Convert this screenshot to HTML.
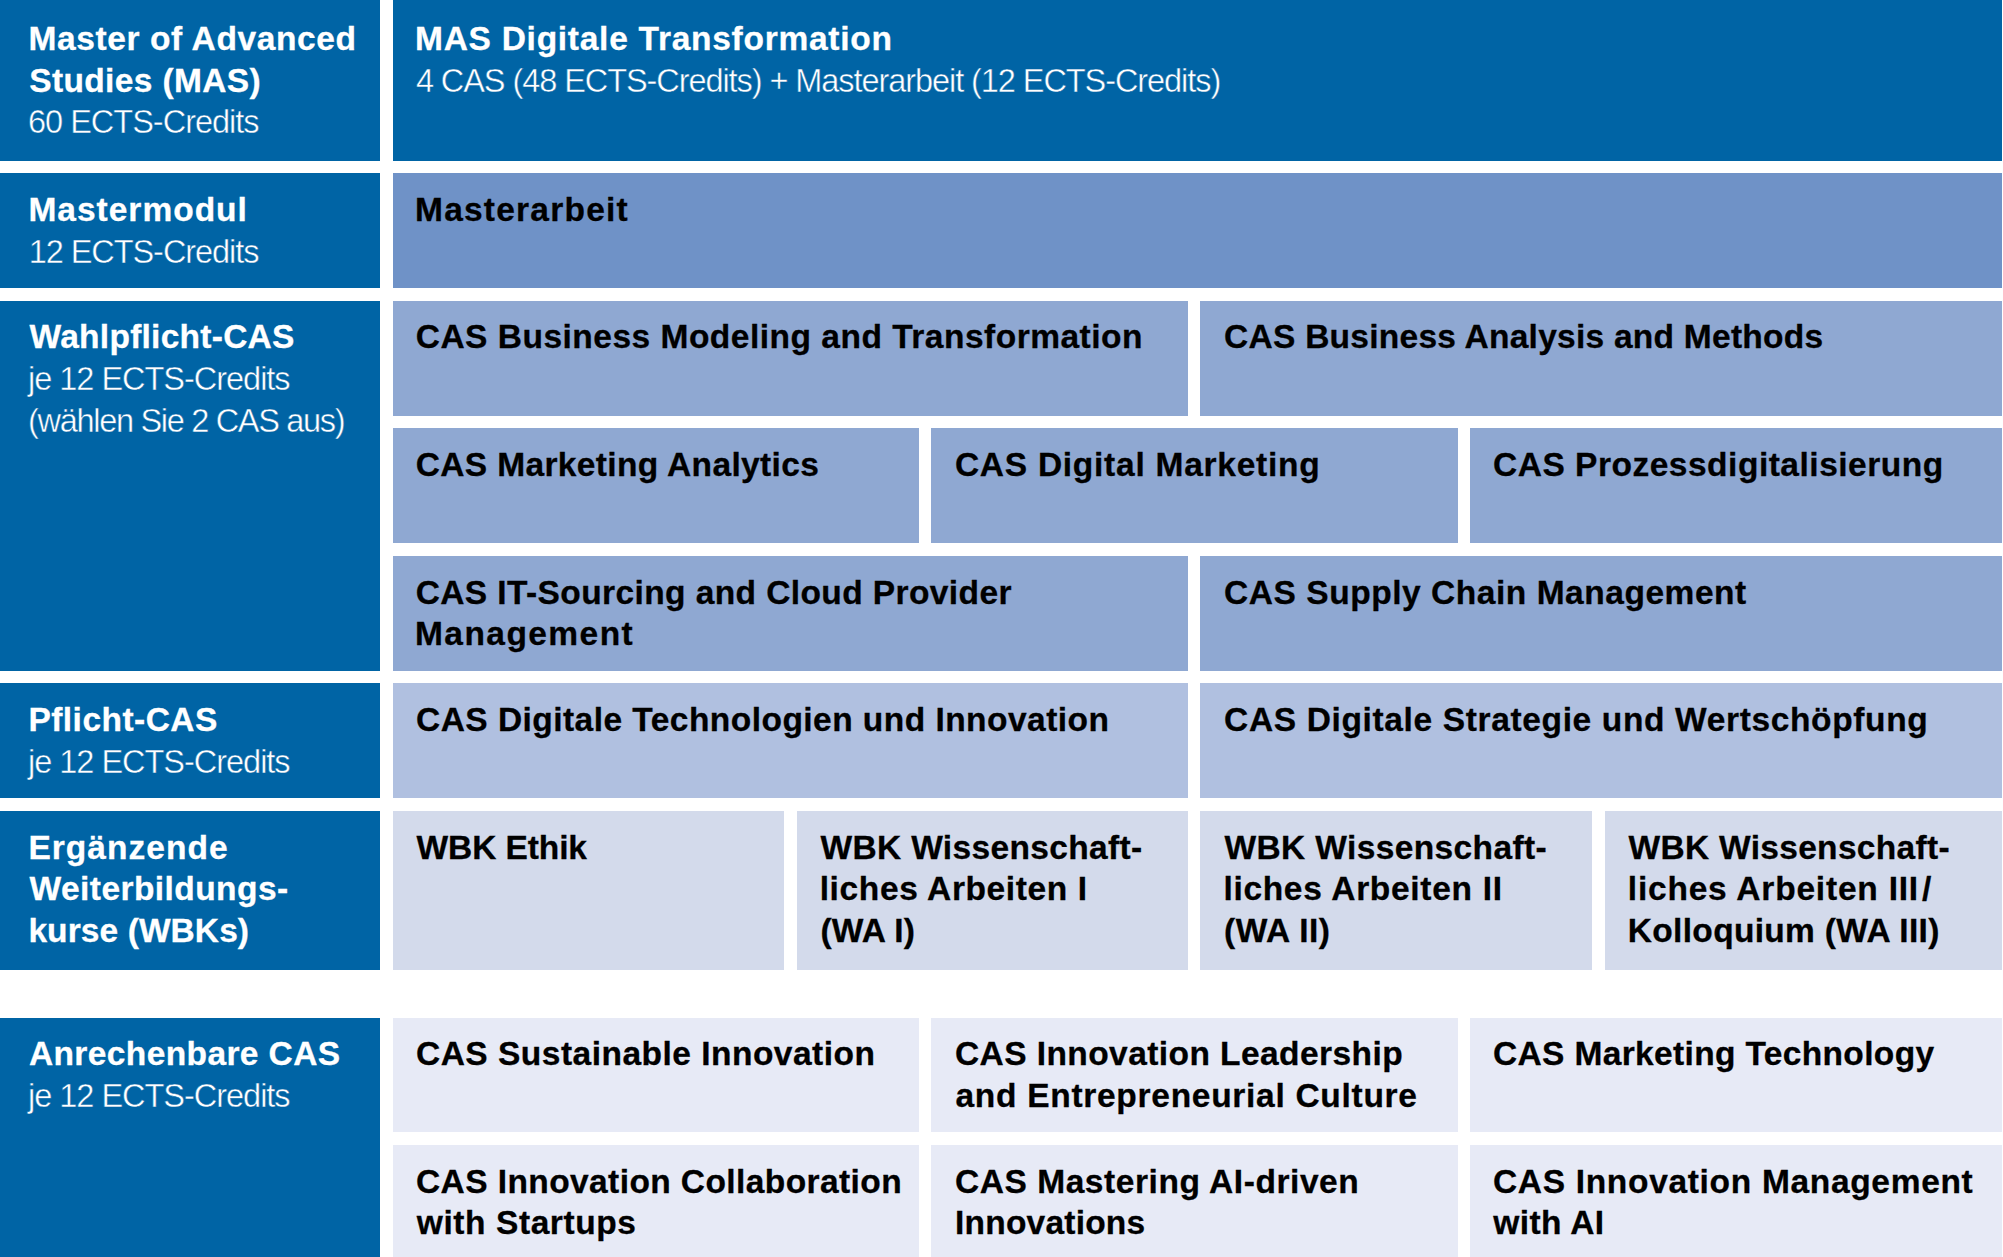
<!DOCTYPE html>
<html lang="de">
<head>
<meta charset="utf-8">
<title>MAS Digitale Transformation</title>
<style>
html,body{margin:0;padding:0;background:#fff;}
body{width:2003px;height:1257px;overflow:hidden;position:relative;font-family:"Liberation Sans",Arial,Helvetica,sans-serif;}
.x{position:absolute;overflow:hidden;color:#000;}
.x div{position:absolute;white-space:nowrap;}
.w{color:#fff;}
.b{font-weight:bold;font-size:33.5px;line-height:43px;height:43px;-webkit-text-stroke:0.3px currentColor;}
.l{font-weight:normal;font-size:32.5px;line-height:42px;height:42px;-webkit-text-stroke:0.45px #0064a5;}
</style>
</head>
<body>
<div class="x w" style="left:0px;top:0px;width:380.3px;height:160.7px;background:#0064a5"><div class="b" style="left:28.4px;top:17px;letter-spacing:0.62px">Master of Advanced</div><div class="b" style="left:29.3px;top:59px;letter-spacing:0.35px">Studies (MAS)</div><div class="l" style="left:28.0px;top:101px;letter-spacing:-1.00px">60 ECTS-Credits</div></div>
<div class="x w" style="left:393px;top:0px;width:1609.3px;height:160.7px;background:#0064a5"><div class="b" style="left:22.0px;top:17px;letter-spacing:0.73px">MAS Digitale Transformation</div><div class="l" style="left:22.9px;top:60px;letter-spacing:-1.07px">4 CAS (48 ECTS-Credits) + Masterarbeit (12 ECTS-Credits)</div></div>
<div class="x w" style="left:0px;top:173.2px;width:380.3px;height:114.9px;background:#0064a5"><div class="b" style="left:28.4px;top:14.8px;letter-spacing:1.00px">Mastermodul</div><div class="l" style="left:28.7px;top:57.8px;letter-spacing:-1.06px">12 ECTS-Credits</div></div>
<div class="x " style="left:393px;top:173.2px;width:1609.3px;height:114.9px;background:#6f92c7"><div class="b" style="left:22.0px;top:14.8px;letter-spacing:1.23px">Masterarbeit</div></div>
<div class="x w" style="left:0px;top:300.6px;width:380.3px;height:370.2px;background:#0064a5"><div class="b" style="left:29.6px;top:14.4px;letter-spacing:0.26px">Wahlpflicht-CAS</div><div class="l" style="left:28.0px;top:57.4px;letter-spacing:-1.02px">je 12 ECTS-Credits</div><div class="l" style="left:28.1px;top:99.4px;letter-spacing:-1.31px">(wählen Sie 2 CAS aus)</div></div>
<div class="x " style="left:393px;top:300.6px;width:795.4px;height:115.1px;background:#8fa8d2"><div class="b" style="left:22.7px;top:14.4px;letter-spacing:0.50px">CAS Business Modeling and Transformation</div></div>
<div class="x " style="left:1200.4px;top:300.6px;width:801.9px;height:115.1px;background:#8fa8d2"><div class="b" style="left:23.7px;top:14.4px;letter-spacing:0.26px">CAS Business Analysis and Methods</div></div>
<div class="x " style="left:393px;top:428.1px;width:526px;height:115.1px;background:#8fa8d2"><div class="b" style="left:22.7px;top:14.9px;letter-spacing:0.36px">CAS Marketing Analytics</div></div>
<div class="x " style="left:931.4px;top:428.1px;width:526.6px;height:115.1px;background:#8fa8d2"><div class="b" style="left:23.5px;top:14.9px;letter-spacing:0.74px">CAS Digital Marketing</div></div>
<div class="x " style="left:1470.1px;top:428.1px;width:532.2px;height:115.1px;background:#8fa8d2"><div class="b" style="left:22.9px;top:14.9px;letter-spacing:0.51px">CAS Prozessdigitalisierung</div></div>
<div class="x " style="left:393px;top:555.8px;width:795.4px;height:115.0px;background:#8fa8d2"><div class="b" style="left:22.7px;top:15.2px;letter-spacing:0.40px">CAS IT-Sourcing and Cloud Provider</div><div class="b" style="left:22.0px;top:56.2px;letter-spacing:1.44px">Management</div></div>
<div class="x " style="left:1200.4px;top:555.8px;width:801.9px;height:115.0px;background:#8fa8d2"><div class="b" style="left:23.7px;top:15.2px;letter-spacing:0.54px">CAS Supply Chain Management</div></div>
<div class="x w" style="left:0px;top:683.3px;width:380.3px;height:115.1px;background:#0064a5"><div class="b" style="left:28.4px;top:14.7px;letter-spacing:0.47px">Pflicht-CAS</div><div class="l" style="left:28.0px;top:57.7px;letter-spacing:-1.02px">je 12 ECTS-Credits</div></div>
<div class="x " style="left:393px;top:683.3px;width:795.4px;height:115.1px;background:#b0c0e0"><div class="b" style="left:23.0px;top:14.7px;letter-spacing:0.46px">CAS Digitale Technologien und Innovation</div></div>
<div class="x " style="left:1200.4px;top:683.3px;width:801.9px;height:115.1px;background:#b0c0e0"><div class="b" style="left:23.7px;top:14.7px;letter-spacing:0.64px">CAS Digitale Strategie und Wertschöpfung</div></div>
<div class="x w" style="left:0px;top:811px;width:380.3px;height:158.6px;background:#0064a5"><div class="b" style="left:28.4px;top:15px;letter-spacing:1.03px">Ergänzende</div><div class="b" style="left:29.6px;top:56px;letter-spacing:0.43px">Weiterbildungs-</div><div class="b" style="left:28.4px;top:98px;letter-spacing:0.09px">kurse (WBKs)</div></div>
<div class="x " style="left:393px;top:811px;width:391.1px;height:158.6px;background:#d3daeb"><div class="b" style="left:23.5px;top:15px;letter-spacing:-0.09px">WBK Ethik</div></div>
<div class="x " style="left:796.7px;top:811px;width:391.5px;height:158.6px;background:#d3daeb"><div class="b" style="left:23.8px;top:15px;letter-spacing:0.35px">WBK Wissenschaft-</div><div class="b" style="left:23.0px;top:56px;letter-spacing:0.62px">liches Arbeiten I</div><div class="b" style="left:23.7px;top:98px;letter-spacing:0.18px">(WA I)</div></div>
<div class="x " style="left:1200.4px;top:811px;width:391.7px;height:158.6px;background:#d3daeb"><div class="b" style="left:24.1px;top:15px;letter-spacing:0.38px">WBK Wissenschaft-</div><div class="b" style="left:23.0px;top:56px;letter-spacing:0.69px">liches Arbeiten II</div><div class="b" style="left:23.7px;top:98px;letter-spacing:0.48px">(WA II)</div></div>
<div class="x " style="left:1604.8px;top:811px;width:397.5px;height:158.6px;background:#d3daeb"><div class="b" style="left:23.7px;top:15px;letter-spacing:0.31px">WBK Wissenschaft-</div><div class="b" style="left:23.0px;top:56px;letter-spacing:0.79px">liches Arbeiten III<span style="margin-left:3px">/</span></div><div class="b" style="left:23.0px;top:98px;letter-spacing:0.32px">Kolloquium (WA III)</div></div>
<div class="x w" style="left:0px;top:1017.6px;width:380.3px;height:239.4px;background:#0064a5"><div class="b" style="left:28.9px;top:14.4px;letter-spacing:0.39px">Anrechenbare CAS</div><div class="l" style="left:28.0px;top:57.4px;letter-spacing:-1.02px">je 12 ECTS-Credits</div></div>
<div class="x " style="left:393px;top:1017.6px;width:526px;height:114.7px;background:#e7eaf6"><div class="b" style="left:23.0px;top:14.4px;letter-spacing:0.49px">CAS Sustainable Innovation</div></div>
<div class="x " style="left:931.4px;top:1017.6px;width:526.6px;height:114.7px;background:#e7eaf6"><div class="b" style="left:23.5px;top:14.4px;letter-spacing:0.43px">CAS Innovation Leadership</div><div class="b" style="left:24.1px;top:56.4px;letter-spacing:0.71px">and Entrepreneurial Culture</div></div>
<div class="x " style="left:1470.1px;top:1017.6px;width:532.2px;height:114.7px;background:#e7eaf6"><div class="b" style="left:22.9px;top:14.4px;letter-spacing:0.35px">CAS Marketing Technology</div></div>
<div class="x " style="left:393px;top:1144.9px;width:526px;height:112.1px;background:#e7eaf6"><div class="b" style="left:23.0px;top:15.1px;letter-spacing:0.41px">CAS Innovation Collaboration</div><div class="b" style="left:23.8px;top:56.1px;letter-spacing:0.58px">with Startups</div></div>
<div class="x " style="left:931.4px;top:1144.9px;width:526.6px;height:112.1px;background:#e7eaf6"><div class="b" style="left:23.5px;top:15.1px;letter-spacing:0.56px">CAS Mastering AI-driven</div><div class="b" style="left:23.7px;top:56.1px;letter-spacing:0.21px">Innovations</div></div>
<div class="x " style="left:1470.1px;top:1144.9px;width:532.2px;height:112.1px;background:#e7eaf6"><div class="b" style="left:22.9px;top:15.1px;letter-spacing:0.68px">CAS Innovation Management</div><div class="b" style="left:23.2px;top:56.1px;letter-spacing:0.39px">with AI</div></div>
</body>
</html>
